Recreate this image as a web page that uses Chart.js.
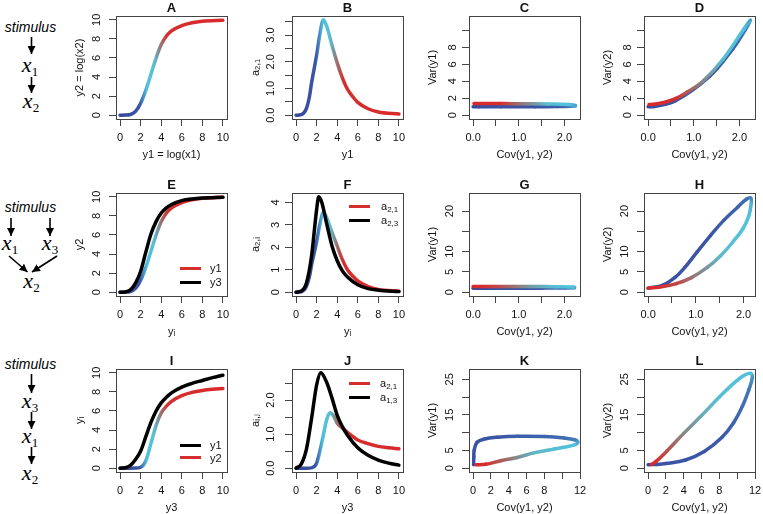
<!DOCTYPE html>
<html>
<head>
<meta charset="utf-8">
<script src="https://cdn.jsdelivr.net/npm/chart.js@4.4.1/dist/chart.umd.min.js"></script>
<style>
  html, body { margin: 0; padding: 0; background: #fff; overflow: hidden; }
  body { position: relative; width: 763px; height: 514px; font-family: 'Liberation Sans', Arial, sans-serif; }
  canvas { position: absolute; }
  .ttl { position: absolute; font-weight: bold; font-size: 13px; line-height: 17px; text-align: center; color: #111; }
  .leg { position: absolute; font-size: 11px; color: #111; }
  .leg .row { position: relative; width: 60px; }
  .leg .ln { position: absolute; left: 0; width: 21px; height: 3px; }
  .leg .tx { position: absolute; white-space: nowrap; }
  .leg sub { font-size: 8px; vertical-align: -2px; line-height: 0; }
</style>
</head>
<body>

<!-- network diagrams on the left -->
<svg width="80" height="514" style="position:absolute;left:0;top:0">
  <defs>
    <marker id="ah" viewBox="0 0 10 10" refX="10" refY="5" markerWidth="8" markerHeight="8"
            markerUnits="userSpaceOnUse" orient="auto">
      <path d="M0,0 L10,5 L0,10 z" fill="#000"/>
    </marker>
  </defs>
  <g font-family="'Liberation Sans', Arial, sans-serif" font-style="italic" font-size="14" text-anchor="middle" fill="#000">
    <text x="30.5" y="32">stimulus</text>
    <text x="30.5" y="212">stimulus</text>
    <text x="30.5" y="369">stimulus</text>
  </g>
  <g stroke="#000" stroke-width="1.6" marker-end="url(#ah)">
    <line x1="31.5" y1="37" x2="31.5" y2="54"/>
    <line x1="31.5" y1="77" x2="31.5" y2="93"/>
    <line x1="11" y1="218" x2="11" y2="236"/>
    <line x1="50" y1="218" x2="50" y2="236"/>
    <line x1="9" y1="256" x2="27.5" y2="272"/>
    <line x1="57" y1="256" x2="32" y2="272"/>
    <line x1="31.5" y1="374" x2="31.5" y2="393"/>
    <line x1="31.5" y1="412" x2="31.5" y2="429"/>
    <line x1="31.5" y1="447" x2="31.5" y2="464"/>
  </g>
  <g font-family="'Liberation Serif', 'DejaVu Serif', serif" font-size="22" text-anchor="middle" fill="#000">
    <text x="30" y="72"><tspan font-style="italic">x</tspan><tspan font-size="13" dy="4">1</tspan></text>
    <text x="31" y="108"><tspan font-style="italic">x</tspan><tspan font-size="13" dy="4">2</tspan></text>
    <text x="10" y="250"><tspan font-style="italic">x</tspan><tspan font-size="13" dy="4">1</tspan></text>
    <text x="50" y="250"><tspan font-style="italic">x</tspan><tspan font-size="13" dy="4">3</tspan></text>
    <text x="31.5" y="288"><tspan font-style="italic">x</tspan><tspan font-size="13" dy="4">2</tspan></text>
    <text x="30" y="408"><tspan font-style="italic">x</tspan><tspan font-size="13" dy="4">3</tspan></text>
    <text x="30" y="443"><tspan font-style="italic">x</tspan><tspan font-size="13" dy="4">1</tspan></text>
    <text x="30" y="480"><tspan font-style="italic">x</tspan><tspan font-size="13" dy="4">2</tspan></text>
  </g>
</svg>

<script>
// ---------- data ----------

// row 1: stimulus -> x1 -> x2
const y1A  = [0, 0.5, 1, 1.5, 2, 2.5, 3, 3.5, 4, 4.5, 5, 6, 7, 8, 10];
const y2A  = [0, 0.01, 0.07, 0.4, 1.25, 2.6, 4.3, 6.0, 7.4, 8.3, 8.85, 9.4, 9.7, 9.85, 9.95];
const y1B  = [0, 0.5, 1, 1.3, 1.5, 2, 2.3, 2.65, 3, 3.5, 4, 4.5, 5, 5.5, 6, 7, 8, 10];
const a21B = [0, 0.02, 0.25, 0.7, 1.2, 2.25, 3.0, 3.57, 3.3, 2.6, 1.95, 1.4, 0.97, 0.7, 0.48, 0.24, 0.12, 0.04];
// C / D loops (stimulus level of each point kept for the colour ramp)
const stimCD = [0, 1, 1.5, 1.8, 1.95, 2.1, 2.4, 2.8, 3.3, 3.8, 4.2, 4.6, 5.5, 8, 10];
const covCD  = [0, 0.13, 0.6, 1.35, 1.85, 2.12, 2.24, 2.1, 1.64, 1.2, 0.85, 0.6, 0.3, 0.08, 0.02];
const varC   = [1.0, 1.0, 1.0, 1.0, 1.01, 1.04, 1.12, 1.25, 1.32, 1.35, 1.36, 1.37, 1.37, 1.37, 1.37];
const varD   = [1.0, 1.03, 1.7, 4.6, 7.8, 10.0, 11.2, 10.2, 6.6, 4.0, 2.7, 1.95, 1.43, 1.27, 1.25];

// row 2: stimulus -> x1, x3 -> x2
const yiE   = [0, 0.5, 1, 1.5, 2, 2.5, 3, 3.5, 4, 4.5, 5, 6, 7, 8, 10];
const y2E1  = [0, 0.01, 0.07, 0.4, 1.25, 2.6, 4.3, 6.0, 7.4, 8.3, 8.85, 9.4, 9.7, 9.85, 9.95];
const y2E3  = [0, 0.03, 0.25, 0.95, 2.2, 4.2, 6.1, 7.4, 8.3, 8.85, 9.2, 9.6, 9.78, 9.87, 9.95];
const yiF1  = [0, 0.5, 1, 1.3, 1.5, 2, 2.3, 2.65, 3, 3.5, 4, 4.5, 5, 5.5, 6, 7, 8, 10];
const a21F  = [0, 0.02, 0.25, 0.7, 1.2, 2.25, 3.0, 3.55, 3.3, 2.65, 2.05, 1.45, 1.0, 0.72, 0.5, 0.25, 0.12, 0.04];
const yiF3  = [0, 0.5, 1, 1.5, 2, 2.2, 2.5, 3, 3.5, 4, 4.5, 5, 6, 7, 8, 10];
const a23F  = [0, 0.05, 0.4, 1.6, 3.7, 4.25, 4.0, 3.0, 2.05, 1.4, 0.95, 0.68, 0.33, 0.16, 0.09, 0.03];
const stimG = [0, 1.5, 1.8, 1.95, 2.05, 2.3, 2.7, 3.1, 3.6, 4.0, 4.4, 5.5, 10];
const covG  = [0, 0.5, 1.0, 1.5, 2.0, 2.22, 2.2, 1.8, 1.3, 0.9, 0.5, 0.2, 0];
const varG  = [1.0, 1.0, 1.0, 1.0, 1.02, 1.1, 1.25, 1.35, 1.38, 1.4, 1.4, 1.4, 1.4];
const stimH = [0, 1.3, 1.55, 1.7, 1.8, 1.88, 1.95, 2.0, 2.05, 2.2, 2.5, 2.75, 2.95, 3.15, 3.35, 3.65, 4.0, 4.4, 5.5, 10];
const covH  = [0, 0.31, 0.56, 0.77, 1.02, 1.31, 1.59, 1.88, 2.06, 2.15, 2.16, 2.11, 1.99, 1.77, 1.52, 1.24, 0.91, 0.59, 0.24, 0];
const varH  = [1.0, 1.75, 3.6, 6.1, 9.8, 14.0, 17.75, 21.0, 22.9, 23.2, 21.8, 18.8, 15.7, 12.3, 9.0, 6.1, 3.6, 2.1, 1.25, 1.0];

// row 3: stimulus -> x3 -> x1 -> x2
const y3I1 = [0, 0.5, 1, 1.5, 2, 2.5, 3, 3.5, 4, 4.5, 5, 6, 7, 8, 9, 10];
const y1I  = [0, 0.05, 0.3, 0.9, 1.8, 3.3, 4.8, 6.0, 6.85, 7.45, 7.9, 8.5, 8.9, 9.2, 9.5, 9.75];
const y3I2 = [0, 1, 1.5, 2, 2.5, 3, 3.5, 4, 4.5, 5, 6, 7, 8, 9, 10];
const y2I  = [0, 0, 0.01, 0.1, 0.75, 2.6, 4.5, 5.8, 6.5, 7.0, 7.6, 7.95, 8.15, 8.27, 8.35];
const y3J3 = [0, 0.5, 1, 1.5, 2, 2.4, 3, 3.5, 4, 4.5, 5, 6, 7, 8, 9, 10];
const a13J = [0, 0.12, 0.55, 1.45, 2.45, 2.8, 2.5, 2.05, 1.55, 1.22, 0.97, 0.6, 0.38, 0.24, 0.15, 0.09];
const y3J1 = [0, 1, 1.5, 2, 2.5, 3, 3.3, 3.6, 4, 4.5, 5, 6, 7, 8, 9, 10];
const a21J = [0, 0, 0.01, 0.15, 0.75, 1.45, 1.63, 1.55, 1.32, 1.18, 1.05, 0.83, 0.72, 0.64, 0.6, 0.57];
const stimK = [0, 1, 1.5, 1.7, 1.8, 1.85, 1.9, 1.95, 2.0, 2.05, 2.15, 2.4, 2.8, 3.1, 3.4, 3.75, 4.2, 4.8, 10];
const covK  = [0.05, 0.06, 0.08, 0.12, 0.45, 1.2, 2.7, 5.0, 8.0, 10.2, 11.4, 11.75, 11.3, 9.1, 6.8, 4.95, 3.1, 1.4, 0.35];
const varK  = [1.0, 1.3, 3.2, 5.0, 7.3, 8.15, 8.7, 9.0, 8.9, 8.5, 8.0, 7.3, 6.5, 5.4, 4.3, 3.0, 2.1, 1.1, 0.95];
const stimL = [0, 1.5, 1.7, 1.8, 1.88, 1.94, 2.0, 2.05, 2.1, 2.3, 2.7, 3.0, 3.25, 3.5, 3.8, 4.3, 5.0, 10];
const covL  = [0, 1.0, 2.0, 4.2, 6.3, 8.3, 9.6, 10.6, 11.3, 11.7, 11.5, 10.3, 8.0, 6.0, 4.0, 2.1, 0.9, 0.35];
const varL  = [1.0, 1.05, 1.3, 2.3, 4.7, 8.7, 12.8, 17.5, 22.0, 25.5, 26.7, 25.3, 20.0, 14.8, 9.8, 4.8, 1.9, 1.0];

// tick values and their labels (R leaves some ticks unlabelled)
const t10   = [0, 2, 4, 6, 8, 10],           l10   = ['0', '2', '4', '6', '8', '10'];
const tB    = [0, 0.5, 1, 1.5, 2, 2.5, 3, 3.5], lB  = ['0.0', '', '1.0', '', '2.0', '', '3.0', ''];
const tCov  = [0, 0.5, 1, 1.5, 2],           lCov  = ['0.0', '', '1.0', '', '2.0'];
const tV10  = [0, 2, 4, 6, 8, 10],           lV10  = ['0', '2', '4', '6', '8', ''];
const tF    = [0, 1, 2, 3, 4],               lF    = ['0', '1', '2', '3', '4'];
const tV20  = [0, 5, 10, 15, 20],            lV20  = ['0', '5', '10', '', '20'];
const tJ    = [0, 0.5, 1, 1.5, 2, 2.5],      lJ    = ['0.0', '', '1.0', '', '2.0', ''];
const tC12  = [0, 2, 4, 6, 8, 10, 12],       lC12  = ['0', '2', '4', '6', '8', '', '12'];
const tV25  = [0, 5, 10, 15, 20, 25],        lV25  = ['0', '5', '', '15', '', '25'];

// ---------- styling ----------
const COLS = [116, 292, 469, 644];
const ROWS = [16, 193, 369];
const BOX_W = 111, BOX_H = 103;
const PAD_L = 46, PAD_T = 14, PAD_R = 14, PAD_B = 46;
const AXIS_COL = '#444';
const RED = '#d62d2d';
// colour ramp along the stimulus (blue -> cyan -> grey -> red)
const STOPS = [[0, '#37479a'], [1.9, '#3b55a6'], [2.6, '#52c1de'], [3.3, '#56c0d3'],
               [3.8, '#86888a'], [4.2, '#b05a58'], [4.6, '#d52e2e'], [10, '#d92a2b']];

Chart.defaults.font.family = "'Liberation Sans', 'DejaVu Sans', Arial, sans-serif";
Chart.defaults.font.size = 11;
Chart.defaults.color = '#111';

function hex2rgb(h) { return [1, 3, 5].map(i => parseInt(h.substr(i, 2), 16)); }
function stimColor(s) {
  for (let i = 1; i < STOPS.length; i++) {
    if (s <= STOPS[i][0]) {
      const [s0, c0] = STOPS[i - 1], [s1, c1] = STOPS[i];
      const t = (s - s0) / (s1 - s0);
      const a = hex2rgb(c0), b = hex2rgb(c1);
      return 'rgb(' + a.map((v, k) => Math.round(v + (b[k] - v) * t)).join(',') + ')';
    }
  }
  return STOPS[STOPS.length - 1][1];
}

// horizontal ramp for curves plotted against the stimulus axis
function xGradient(ctx) {
  const chart = ctx.chart, xs = chart.scales.x;
  if (!xs || !chart.chartArea) return STOPS[0][1];
  const g = chart.ctx.createLinearGradient(xs.getPixelForValue(0), 0, xs.getPixelForValue(10), 0);
  STOPS.forEach(([s, c]) => g.addColorStop(s / 10, c));
  return g;
}

// per segment ramp for the parametric loops
function loopSegment(stim) {
  return {
    borderColor: c => {
      const a = stimColor(stim[c.p0DataIndex]), b = stimColor(stim[c.p1DataIndex]);
      const dx = c.p1.x - c.p0.x, dy = c.p1.y - c.p0.y;
      if (dx * dx + dy * dy < 1) return a;
      const g = c.chart.ctx.createLinearGradient(c.p0.x, c.p0.y, c.p1.x, c.p1.y);
      g.addColorStop(0, a); g.addColorStop(1, b);
      return g;
    }
  };
}

const pts = (xs, ys) => xs.map((x, i) => ({ x, y: ys[i] }));
const baseLine = { showLine: true, pointRadius: 0, borderWidth: 3.5, borderCapStyle: 'round',
                   borderJoinStyle: 'round', fill: false };
const blackLine = (xs, ys) => ({ ...baseLine, data: pts(xs, ys), borderColor: '#000', cubicInterpolationMode: 'monotone' });
const rampLine  = (xs, ys) => ({ ...baseLine, data: pts(xs, ys), borderColor: xGradient, cubicInterpolationMode: 'monotone' });
const loopLine  = (xs, ys, stim) => ({ ...baseLine, data: pts(xs, ys), tension: 0.4,
                                       borderColor: stimColor(stim[0]), segment: loopSegment(stim) });

function axisCfg(range, tv, tl, title, vertical) {
  const c = {
    type: 'linear', min: range[0], max: range[1],
    afterBuildTicks: s => { s.ticks = tv.map(v => ({ value: v })); },
    afterFit: s => { if (vertical) s.width = PAD_L; else s.height = PAD_B; },
    grid: { drawOnChartArea: false, drawTicks: true, tickLength: 7, color: AXIS_COL, tickColor: AXIS_COL },
    border: { display: true, color: AXIS_COL, width: 1 },
    ticks: { autoSkip: false, padding: vertical ? 6 : 5, callback: (v, i) => tl[i], color: '#111', font: { size: 11 } },
    title: { display: true, text: title, color: '#111', font: { size: 11 },
             padding: vertical ? { top: 3.4, bottom: 0 } : { top: 0, bottom: 3.9 } }
  };
  if (vertical) Object.assign(c.ticks, { minRotation: 90, maxRotation: 90, crossAlign: 'center' });
  return c;
}

// full frame round the plot region, like R's box()
const boxPlugin = {
  id: 'box',
  afterDraw(chart) {
    const { ctx, chartArea: a } = chart;
    ctx.save();
    ctx.strokeStyle = AXIS_COL; ctx.lineWidth = 1;
    ctx.strokeRect(Math.round(a.left) + 0.5, Math.round(a.top) + 0.5,
                   Math.round(a.right - a.left), Math.round(a.bottom - a.top));
    ctx.restore();
  }
};

function makePanel(p) {
  const bx = COLS[p.col], by = ROWS[p.row];
  const cv = document.createElement('canvas');
  cv.width = PAD_L + BOX_W + PAD_R; cv.height = PAD_T + BOX_H + PAD_B;
  cv.style.left = (bx - PAD_L) + 'px'; cv.style.top = (by - PAD_T) + 'px';
  document.body.appendChild(cv);

  const t = document.createElement('div');
  t.className = 'ttl'; t.textContent = p.title;
  t.style.left = bx + 'px'; t.style.top = (by - 17) + 'px'; t.style.width = BOX_W + 'px';
  document.body.appendChild(t);

  new Chart(cv, {
    type: 'scatter',
    data: { datasets: p.datasets },
    options: {
      responsive: false, animation: false, events: [], devicePixelRatio: 1,
      layout: { padding: { top: PAD_T, right: PAD_R, left: 0, bottom: 0 } },
      plugins: { legend: { display: false }, tooltip: { enabled: false } },
      scales: {
        x: axisCfg(p.xr, p.xt, p.xl, p.xtitle, false),
        y: axisCfg(p.yr, p.yt, p.yl, p.ytitle, true)
      }
    },
    plugins: [boxPlugin]
  });

  if (p.legend) {
    const lg = document.createElement('div');
    lg.className = 'leg';
    lg.style.left = (bx + p.legend.x) + 'px'; lg.style.top = (by + p.legend.y) + 'px';
    p.legend.items.forEach(([label, col]) => {
      const r = document.createElement('div');
      r.className = 'row'; r.style.height = p.legend.dy + 'px';
      r.innerHTML = `<span class="ln" style="background:${col};top:${p.legend.dy / 2 - 1.5}px"></span>` +
                    `<span class="tx" style="left:${p.legend.tx}px;top:0;line-height:${p.legend.dy}px">${label}</span>`;
      lg.appendChild(r);
    });
    document.body.appendChild(lg);
  }
}

const X10 = [-0.4, 10.4];
const panels = [
  { col: 0, row: 0, title: 'A', xr: X10, xt: t10, xl: l10, xtitle: 'y1 = log(x1)',
    yr: [-0.4, 10.4], yt: t10, yl: l10, ytitle: 'y2 = log(x2)',
    datasets: [rampLine(y1A, y2A)] },
  { col: 1, row: 0, title: 'B', xr: X10, xt: t10, xl: l10, xtitle: 'y1',
    yr: [-0.143, 3.713], yt: tB, yl: lB, ytitle: 'a\u2082,\u2081',
    datasets: [rampLine(y1B, a21B)] },
  { col: 2, row: 0, title: 'C', xr: [-0.09, 2.34], xt: tCov, xl: lCov, xtitle: 'Cov(y1, y2)',
    yr: [-0.45, 11.7], yt: tV10, yl: lV10, ytitle: 'Var(y1)',
    datasets: [loopLine(covCD, varC, stimCD)] },
  { col: 3, row: 0, title: 'D', xr: [-0.09, 2.34], xt: tCov, xl: lCov, xtitle: 'Cov(y1, y2)',
    yr: [-0.45, 11.7], yt: tV10, yl: lV10, ytitle: 'Var(y2)',
    datasets: [loopLine(covCD, varD, stimCD)] },

  { col: 0, row: 1, title: 'E', xr: X10, xt: t10, xl: l10, xtitle: 'y\u1d62',
    yr: [-0.4, 10.4], yt: t10, yl: l10, ytitle: 'y2',
    datasets: [blackLine(yiE, y2E3), rampLine(yiE, y2E1)],
    legend: { x: 64, y: 68, dy: 14, tx: 30, items: [['y1', RED], ['y3', '#000']] } },
  { col: 1, row: 1, title: 'F', xr: X10, xt: t10, xl: l10, xtitle: 'y\u1d62',
    yr: [-0.17, 4.42], yt: tF, yl: lF, ytitle: 'a\u2082,\u1d62',
    datasets: [blackLine(yiF3, a23F), rampLine(yiF1, a21F)],
    legend: { x: 57, y: 6, dy: 14, tx: 32, items: [['a<sub>2,1</sub>', RED], ['a<sub>2,3</sub>', '#000']] } },
  { col: 2, row: 1, title: 'G', xr: [-0.09, 2.34], xt: tCov, xl: lCov, xtitle: 'Cov(y1, y2)',
    yr: [-0.94, 24.44], yt: tV20, yl: lV20, ytitle: 'Var(y1)',
    datasets: [loopLine(covG, varG, stimG)] },
  { col: 3, row: 1, title: 'H', xr: [-0.086, 2.24], xt: tCov, xl: lCov, xtitle: 'Cov(y1, y2)',
    yr: [-0.94, 24.44], yt: tV20, yl: lV20, ytitle: 'Var(y2)',
    datasets: [loopLine(covH, varH, stimH)] },

  { col: 0, row: 2, title: 'I', xr: X10, xt: t10, xl: l10, xtitle: 'y3',
    yr: [-0.4, 10.4], yt: t10, yl: l10, ytitle: 'y\u1d62',
    datasets: [blackLine(y3I1, y1I), rampLine(y3I2, y2I)],
    legend: { x: 64, y: 70, dy: 12.5, tx: 30, items: [['y1', '#000'], ['y2', RED]] } },
  { col: 1, row: 2, title: 'J', xr: X10, xt: t10, xl: l10, xtitle: 'y3',
    yr: [-0.112, 2.912], yt: tJ, yl: lJ, ytitle: 'a\u1d62,\u2c7c',
    datasets: [blackLine(y3J3, a13J), rampLine(y3J1, a21J)],
    legend: { x: 57, y: 7, dy: 14, tx: 31, items: [['a<sub>2,1</sub>', RED], ['a<sub>1,3</sub>', '#000']] } },
  { col: 2, row: 2, title: 'K', xr: [-0.46, 12.0], xt: tC12, xl: lC12, xtitle: 'Cov(y1, y2)',
    yr: [-1.07, 27.9], yt: tV25, yl: lV25, ytitle: 'Var(y1)',
    datasets: [loopLine(covK, varK, stimK)] },
  { col: 3, row: 2, title: 'L', xr: [-0.46, 12.0], xt: tC12, xl: lC12, xtitle: 'Cov(y1, y2)',
    yr: [-1.07, 27.9], yt: tV25, yl: lV25, ytitle: 'Var(y2)',
    datasets: [loopLine(covL, varL, stimL)] }
];

panels.forEach(makePanel);
</script>
</body>
</html>
